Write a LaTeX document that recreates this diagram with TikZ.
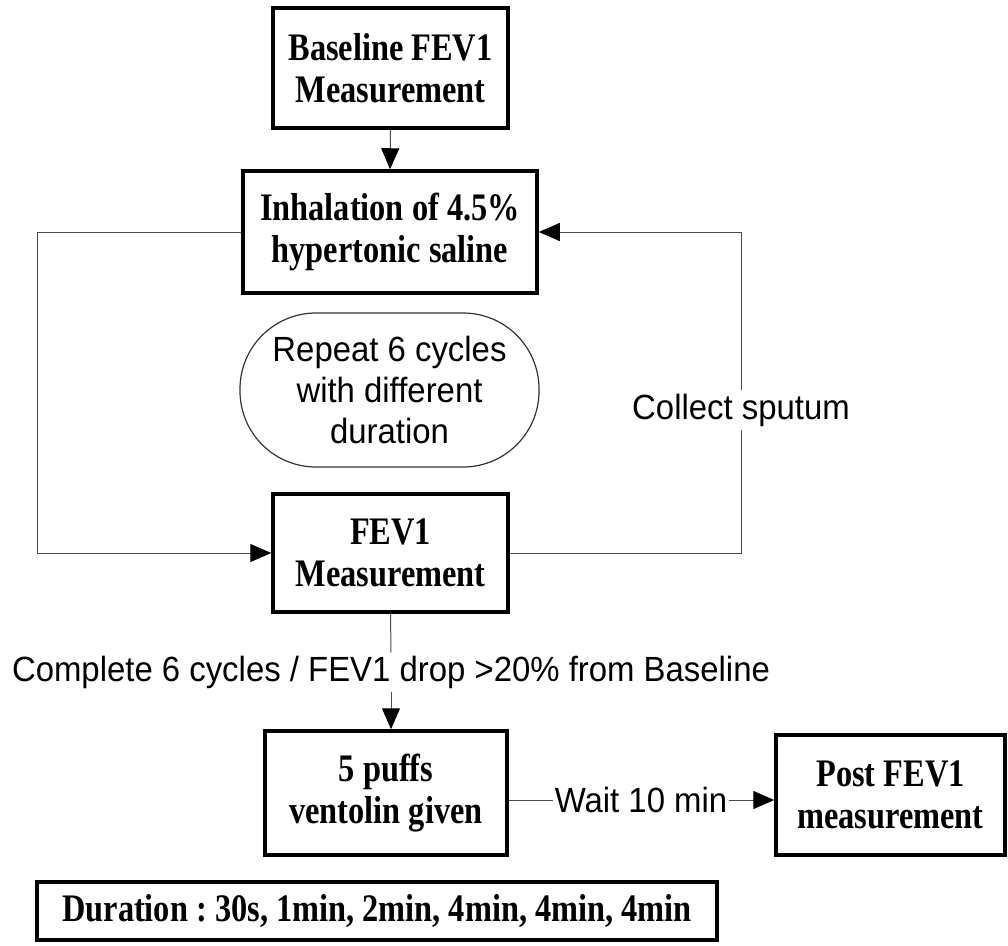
\documentclass[tikz,border=0pt]{standalone}
\usepackage{fontspec}
\setmainfont{Liberation Serif}
\newfontfamily\bxfont[FakeStretch=0.83]{Liberation Serif}
\newfontfamily\sxfont[FakeStretch=0.94]{Liberation Sans}
\usetikzlibrary{arrows.meta}
\frenchspacing
\tikzset{
  boxnode/.style={draw=black, line width=3.5pt, align=center, inner sep=0pt,
    font=\bxfont\bfseries\fontsize{39}{42}\selectfont},
  ovalnode/.style={draw=black!80, line width=1.2pt, rounded corners=76pt, align=center,
    minimum width=299pt, minimum height=154pt, inner sep=0pt,
    font=\sxfont\fontsize{35}{41}\selectfont},
  lbl/.style={fill=white, inner sep=3pt, font=\sxfont\fontsize{35}{41}\selectfont},
  conn/.style={draw=black!70, line width=1pt},
  arr/.style={-{Triangle[length=21pt,width=18pt,color=black]}}
}
\begin{document}
\begin{tikzpicture}[x=1pt,y=-1pt]
\useasboundingbox (0,0) rectangle (1008,945);
\node[boxnode, minimum width=235pt, minimum height=120pt] (b1) at (390.5,68) {Baseline FEV1\\Measurement};
\node[boxnode, minimum width=294pt, minimum height=122pt] (b2) at (390,232) {Inhalation of 4.5\%\\hypertonic saline};
\node[ovalnode] (ov) at (389.5,390) {Repeat 6 cycles\\with different\\duration};
\node[boxnode, minimum width=235pt, minimum height=118pt] (b3) at (390.5,553) {FEV1\\Measurement};
\node[boxnode, minimum width=242pt, minimum height=124pt] (b4) at (386,793) {5 puffs\\ventolin given};
\node[boxnode, minimum width=229pt, minimum height=120pt] (b5) at (890.5,795) {Post FEV1\\measurement};
\node[boxnode, minimum width=680pt, minimum height=58pt] (dur) at (377,911) {\frenchspacing Duration : 30s, 1min, 2min, 4min, 4min, 4min};

\coordinate (lc) at (37,0);
\node[lbl] (cs) at (741,410) {Collect sputum};
\node[lbl] (cp) at (391,672) {Complete 6 cycles / FEV1 drop >20\% from Baseline};
\node[lbl, inner sep=2pt] (wt) at (641,800) {Wait 10 min};

\draw[conn, arr] (b1.south) -- (b2.north);
\draw[conn, arr] (b2.west) -- (b2.west -| lc) |- (b3.west);
\draw[conn] (b3.east) -| (cs.south);
\draw[conn, arr] (cs.north) |- (b2.east);
\draw[conn] (b3.south) -- (cp.north);
\draw[conn, arr] (cp.south) -- (cp.south |- b4.north);
\draw[conn] (b4.east |- wt) -- (wt.west);
\draw[conn, arr] (wt.east) -- (wt.east -| b5.west);
\end{tikzpicture}
\end{document}
